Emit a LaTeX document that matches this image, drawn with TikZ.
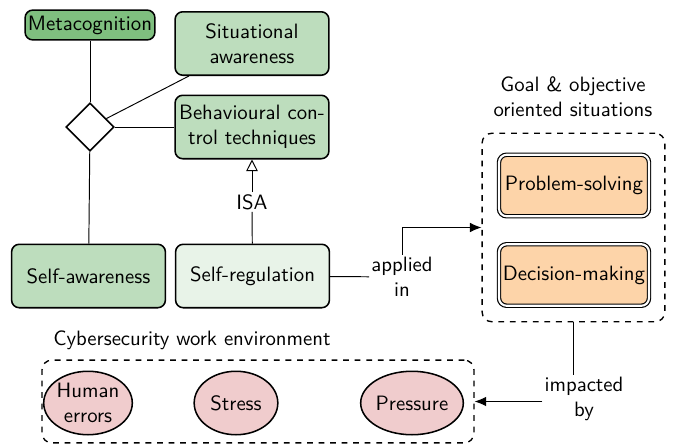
\documentclass[tikz,border=0pt]{standalone}
\usetikzlibrary{shapes.geometric,arrows.meta}
\renewcommand{\familydefault}{\sfdefault}
\definecolor{gmid}{HTML}{BDDDBD}
\definecolor{gdark}{HTML}{7FBF7F}
\definecolor{glight}{HTML}{E8F3E8}
\definecolor{orng}{HTML}{FDD4A9}
\definecolor{pnk}{HTML}{F0CCCD}
\begin{document}
\begin{tikzpicture}[x=0.52pt,y=-0.52pt,font=\sffamily\fontsize{10.8}{13}\selectfont,
  box/.style={draw,line width=0.8pt,rounded corners=4pt,align=center,minimum width=80pt,minimum height=33pt,inner sep=1pt,fill=gmid},
  obox/.style={draw,line width=0.6pt,double,double distance=1.1pt,rounded corners=4pt,align=center,minimum width=78pt,minimum height=32pt,inner sep=1pt,fill=orng},
  ell/.style={draw,line width=0.8pt,ellipse,fill=pnk,minimum width=43.5pt,minimum height=33pt,inner sep=0pt,align=center},
  grp/.style={draw,dashed,line width=0.7pt,rounded corners=5pt},
  conn/.style={line width=0.5pt},
  lbl/.style={align=center,inner sep=1pt}]
\useasboundingbox (0,0) rectangle (673,445);
\node[box,fill=gdark,minimum width=67.5pt,minimum height=15.5pt] (meta) at (90,25) {Metacognition};
\node[box] (sit) at (252,43.5) {Situational\\awareness};
\node[box] (beh) at (252,127) {Behavioural con-\\trol techniques};
\node[draw,diamond,line width=0.8pt,fill=white,minimum width=25pt,minimum height=25pt,inner sep=0pt] (dia) at (90,127) {};
\node[box] (saw) at (88.5,276) {Self-awareness};
\node[box,fill=glight] (sr) at (252.5,276) {Self-regulation};
\node[lbl] (isa) at (252,202) {ISA};
\node[grp,minimum width=95pt,minimum height=98pt] (goal) at (573.5,227.5) {};
\node[lbl] (goalt) at (573,97) {Goal \& objective\\oriented situations};
\node[obox] (ps) at (574,185.5) {Problem-solving};
\node[obox] (dm) at (574,275) {Decision-making};
\node[lbl] (app) at (402,277) {applied\\in};
\node[grp,minimum width=224.6pt,minimum height=43pt] (cyb) at (258,401.5) {};
\node[lbl] (cybt) at (192,340) {Cybersecurity work environment};
\node[ell] (hum) at (88,403) {Human\\errors};
\node[ell] (str) at (236,403) {Stress};
\node[ell] (pre) at (412,403) {Pressure};
\node[lbl] (imp) at (584,399) {impacted\\by};
\draw[conn] (meta) -- (dia);
\draw[conn] (dia) -- (sit);
\draw[conn] (dia) -- (beh);
\draw[conn] (dia) -- (saw);
\draw[conn] (sr) -- (isa);
\draw[conn,-{Triangle[open,length=6pt,width=6pt]}] (isa) -- (beh);
\draw[conn] (sr) -- (app);
\draw[conn,-{Latex[length=6pt,width=5pt]}] (app.north) |- (goal.west);
\draw[conn] (goal.south) -- (goal.south |- imp.north);
\draw[conn,-{Latex[length=6pt,width=5pt]}] (imp.west |- cyb.east) -- (cyb.east);
\end{tikzpicture}
\end{document}
